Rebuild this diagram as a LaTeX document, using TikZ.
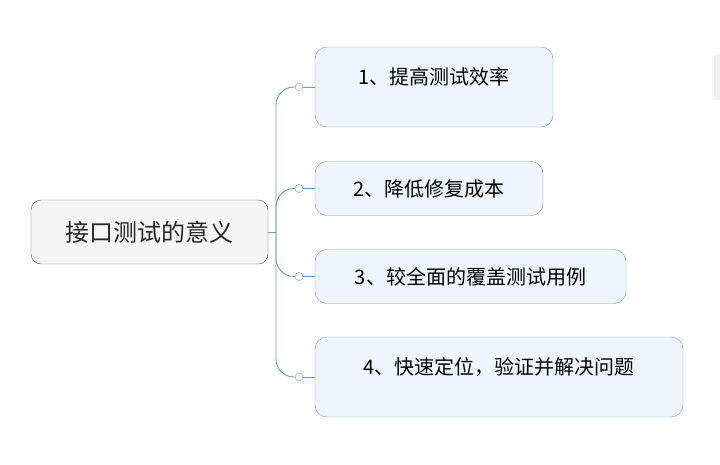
\documentclass[tikz,border=0pt]{standalone}
\usepackage{fontspec}
\newfontfamily\cjk{Noto Sans CJK SC}
\definecolor{boxline}{RGB}{110,155,200}
\definecolor{boxfill}{RGB}{239,245,251}
\definecolor{rootline}{RGB}{90,90,90}
\definecolor{rootfill}{RGB}{245,245,245}
\begin{document}
\begin{tikzpicture}[x=1pt,y=-1pt,line join=round,line cap=round,
	root/.style={draw=rootline,fill=rootfill,rounded corners=10pt,minimum width=237pt,minimum height=64pt,font=\cjk\fontsize{24}{24}\selectfont,text=black!85},
	item/.style={draw=boxline,fill=boxfill,rounded corners=12pt,inner sep=0pt,font=\cjk\fontsize{20}{20}\selectfont},
	tall/.style={item,text height=37.6pt,text depth=42.4pt},
	short/.style={item,text height=34.6pt,text depth=19.4pt},
	dot/.style={circle,draw=boxline,fill=white,inner sep=0pt,minimum size=8pt},
	conn/.style={draw=boxline,line width=0.9pt}]
		\useasboundingbox (0,0) rectangle (720,464);
		\fill[black!6] (714,55) rectangle (720,100);
		\node[root] (root) at (149.5,232) {接口测试的意义};
		\node[tall,minimum width=238pt] (b1) at (434,87) {1、提高测试效率};
		\node[short,minimum width=228pt] (b2) at (429,188.5) {2、降低修复成本};
		\node[short,minimum width=311pt] (b3) at (470.5,276.5) {3、较全面的覆盖测试用例};
		\node[tall,minimum width=368pt] (b4) at (499,377) {4、快速定位，验证并解决问题};
		\coordinate (hub) at (276,232);
		\node[dot] (d1) at (299,87) {};
		\node[dot] (d2) at (299,188.5) {};
		\node[dot] (d3) at (299,276.5) {};
		\node[dot] (d4) at (299,377) {};
		\draw[conn] (root.east) -- (hub);
		\foreach \i in {1,...,4}{
			\draw[conn,rounded corners=18pt] (d\i.west) -| (hub);
			\draw[conn] (d\i.east) -- (b\i.west);
		}
		\end{tikzpicture}
\end{document}
